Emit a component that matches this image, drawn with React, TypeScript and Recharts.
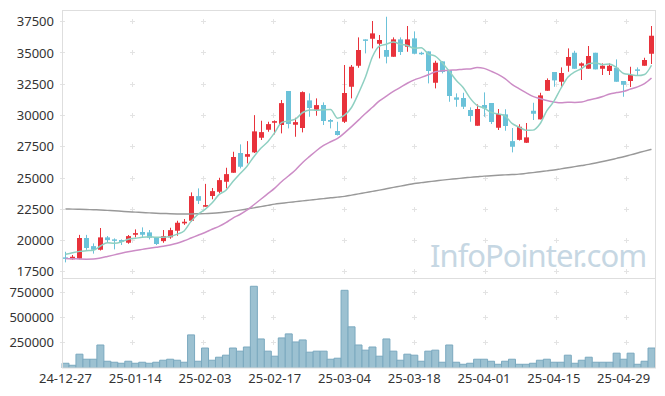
import { Bar, ComposedChart, Line, ReferenceDot, XAxis, YAxis } from "recharts";

// 일봉 데이터 (24-12-27 ~ 25-05-08)
const dates = [
  "24-12-27", "24-12-30", "25-01-02", "25-01-03", "25-01-06", "25-01-07", "25-01-08", "25-01-09", "25-01-10", "25-01-13",
  "25-01-14", "25-01-15", "25-01-16", "25-01-17", "25-01-20", "25-01-21", "25-01-22", "25-01-23", "25-01-24", "25-01-31",
  "25-02-03", "25-02-04", "25-02-05", "25-02-06", "25-02-07", "25-02-10", "25-02-11", "25-02-12", "25-02-13", "25-02-14",
  "25-02-17", "25-02-18", "25-02-19", "25-02-20", "25-02-21", "25-02-24", "25-02-25", "25-02-26", "25-02-27", "25-02-28",
  "25-03-04", "25-03-05", "25-03-06", "25-03-07", "25-03-10", "25-03-11", "25-03-12", "25-03-13", "25-03-14", "25-03-17",
  "25-03-18", "25-03-19", "25-03-20", "25-03-21", "25-03-24", "25-03-25", "25-03-26", "25-03-27", "25-03-28", "25-03-31",
  "25-04-01", "25-04-02", "25-04-03", "25-04-04", "25-04-07", "25-04-08", "25-04-09", "25-04-10", "25-04-11", "25-04-14",
  "25-04-15", "25-04-16", "25-04-17", "25-04-18", "25-04-21", "25-04-22", "25-04-23", "25-04-24", "25-04-25", "25-04-28",
  "25-04-29", "25-04-30", "25-05-02", "25-05-07", "25-05-08",
];

const opens = [
  18650, 18500, 18550, 20200, 19550, 19260, 20250, 20090, 20040, 19820,
  20460, 20680, 20650, 20220, 19950, 20250, 20780, 21370, 21580, 23550,
  22700, 23560, 23900, 24700, 25420, 27000, 26700, 27050, 28220, 28860,
  29420, 29240, 31960, 29260, 29000, 31210, 30460, 30840, 29640, 28760,
  29500, 32300, 33980, 36090, 36140, 35740, 35240, 34700, 36090, 35500,
  36170, 35020, 35130, 32620, 34330, 33640, 31450, 31400, 30440, 29180,
  30840, 31000, 29020, 30090, 27950, 28050, 27820, 30380, 29690, 31980,
  33480, 32700, 33980, 35020, 33980, 33740, 35020, 33740, 33560, 33820,
  32760, 32760, 33690, 33980, 34940,
];

const highs = [
  19100, 18840, 20450, 20450, 19770, 21000, 20360, 20170, 20090, 20440,
  20890, 21050, 20840, 20220, 20840, 21020, 21580, 21720, 23850, 24170,
  24530, 24200, 25020, 25820, 27100, 27690, 27950, 30030, 29580, 29500,
  29610, 31240, 31960, 29820, 31930, 31770, 31370, 31050, 29720, 29500,
  34040, 34040, 36250, 36090, 37560, 36440, 37900, 36250, 36250, 37160,
  36730, 35100, 35130, 34380, 34330, 33640, 31770, 31820, 30650, 30890,
  31850, 31000, 30520, 30500, 29000, 29300, 29400, 31020, 31820, 32970,
  33480, 33850, 35370, 35180, 34250, 35560, 35020, 34170, 34170, 34490,
  32760, 33900, 33850, 34620, 37160,
];

const lows = [
  18250, 18480, 18500, 19250, 18950, 19200, 19870, 19290, 19640, 19740,
  20250, 20280, 20090, 19640, 19820, 20140, 20380, 21250, 21500, 22920,
  22700, 23300, 23770, 24170, 25420, 25770, 26170, 27000, 28040, 28700,
  28490, 28570, 28970, 28300, 28650, 29900, 29980, 29240, 28970, 28400,
  29400, 31370, 33820, 34970, 35370, 34570, 34170, 34700, 34840, 35100,
  34940, 34850, 32570, 32170, 33370, 31100, 30700, 30520, 29500, 29180,
  29900, 29320, 28840, 28780, 27050, 28000, 27800, 29640, 29690, 31980,
  32300, 32300, 33500, 33740, 32840, 33740, 33690, 33240, 33240, 32700,
  31500, 32280, 33240, 33980, 34120,
];

const closes = [
  18550, 18700, 20200, 19400, 19260, 20250, 20030, 20010, 19880, 20350,
  20590, 20460, 20220, 19720, 20350, 20830, 21420, 21500, 23550, 23180,
  22830, 23950, 24830, 25310, 26680, 25900, 26910, 28730, 28670, 29310,
  29550, 30990, 29320, 29470, 31870, 30600, 30830, 29560, 29500, 28440,
  31800, 33900, 35240, 35980, 36570, 36040, 34700, 36090, 35080, 36090,
  34940, 34920, 33560, 34220, 33480, 31560, 31260, 30700, 29960, 30520,
  30570, 29480, 30120, 29160, 27500, 29100, 28250, 30140, 31610, 32840,
  32810, 33400, 34680, 33740, 34170, 34760, 33690, 33980, 33980, 32700,
  32460, 33240, 33580, 34440, 36380,
];

const volumes = [
  47000, 27000, 137000, 87000, 87000, 228000, 67000, 57000, 47000, 67000,
  47000, 57000, 47000, 57000, 77000, 87000, 77000, 57000, 328000, 67000,
  198000, 77000, 107000, 127000, 198000, 167000, 208000, 810000, 288000, 167000,
  117000, 298000, 338000, 258000, 278000, 157000, 167000, 167000, 87000, 97000,
  770000, 408000, 228000, 177000, 208000, 117000, 288000, 167000, 77000, 137000,
  127000, 67000, 167000, 177000, 57000, 228000, 57000, 37000, 47000, 87000,
  87000, 67000, 37000, 67000, 87000, 37000, 37000, 47000, 77000, 87000,
  57000, 57000, 127000, 47000, 77000, 107000, 57000, 57000, 57000, 147000,
  87000, 147000, 37000, 67000, 198000,
];

// 이동평균선 (5일, 20일, 120일)
const ma5 = [
  18890, 19020, 19130, 19180, 19222, 19562, 19828, 19790, 19886, 20104,
  20172, 20258, 20300, 20268, 20268, 20316, 20508, 20764, 21530, 22096,
  22496, 23002, 23668, 24020, 24720, 25334, 25926, 26706, 27378, 27904,
  28634, 29450, 29568, 29728, 30240, 30450, 30418, 30466, 30472, 29786,
  30026, 30640, 31776, 33072, 34698, 35546, 35706, 35876, 35696, 35600,
  35380, 35424, 34918, 34746, 34224, 33548, 32816, 32244, 31392, 30800,
  30602, 30246, 30130, 29970, 29366, 29072, 28826, 28830, 29320, 30388,
  31130, 32160, 33068, 33494, 33760, 34150, 34208, 34068, 34116, 33822,
  33362, 33272, 33192, 33284, 34020,
];

const ma20 = [
  18560, 18540, 18520, 18510, 18520, 18600, 18720, 18850, 18980, 19100,
  19200, 19290, 19380, 19460, 19540, 19640, 19780, 19980, 20200, 20422,
  20637, 20899, 21131, 21426, 21797, 22080, 22424, 22860, 23299, 23747,
  24195, 24722, 25177, 25664, 26240, 26729, 27199, 27602, 27900, 28163,
  28611, 29109, 29629, 30163, 30657, 31164, 31554, 31922, 32242, 32581,
  32851, 33047, 33259, 33497, 33577, 33625, 33647, 33704, 33727, 33831,
  33769, 33548, 33292, 32951, 32498, 32151, 31828, 31531, 31357, 31195,
  31088, 31012, 31068, 31044, 31079, 31239, 31360, 31524, 31725, 31834,
  31929, 32117, 32290, 32554, 32998,
];

const ma120 = [
  22520, 22510, 22500, 22480, 22460, 22440, 22410, 22380, 22340, 22300,
  22270, 22240, 22210, 22180, 22160, 22140, 22130, 22130, 22130, 22140,
  22150, 22180, 22220, 22280, 22350, 22430, 22520, 22610, 22710, 22810,
  22910, 22980, 23050, 23110, 23170, 23230, 23290, 23350, 23420, 23470,
  23530, 23630, 23730, 23830, 23930, 24030, 24140, 24250, 24350, 24460,
  24560, 24630, 24700, 24760, 24830, 24890, 24940, 25000, 25050, 25100,
  25150, 25180, 25220, 25250, 25280, 25310, 25370, 25430, 25500, 25570,
  25640, 25730, 25820, 25910, 26000, 26090, 26200, 26320, 26440, 26570,
  26700, 26850, 27000, 27150, 27290,
];

const priceTicks = [17500, 20000, 22500, 25000, 27500, 30000, 32500, 35000, 37500];
const volumeTicks = [250000, 500000, 750000];
const gridDates = dates.filter((_, i) => i % 10 === 0);

const RED = "#e8323b";
const BLUE = "#6bc2d9";
const FONT = "'Noto Sans', sans-serif";
const PRICE_DOMAIN = [17000, 38440];
const VOLUME_DOMAIN = [0, 892000];

const data = dates.map((date, i) => ({
  date,
  open: opens[i],
  high: highs[i],
  low: lows[i],
  close: closes[i],
  range: [lows[i], highs[i]],
  volume: volumes[i],
  ma5: ma5[i],
  ma20: ma20[i],
  ma120: ma120[i],
}));

// 캔들: range(저가~고가) 막대 위치를 받아 시가/종가 몸통을 그린다
function Candle(props: any) {
  const { x, y, width, height, payload } = props;
  if (x == null || y == null) return null;
  const { open, close, high, low } = payload;
  const color = close >= open ? RED : BLUE;
  const top = Math.min(y, y + height);
  const h = Math.abs(height);
  const ratio = h / (high - low);
  const cx = Math.floor(x + width / 2);
  const yOpen = top + (high - open) * ratio;
  const yClose = top + (high - close) * ratio;
  const bodyTop = Math.min(yOpen, yClose);
  const bodyH = Math.max(Math.abs(yOpen - yClose), 1.5);
  return (
    <g>
      <line x1={cx + 0.5} x2={cx + 0.5} y1={top} y2={top + h} stroke={color} strokeWidth={1} />
      <rect x={cx - 2} y={bodyTop} width={5} height={bodyH} fill={color} />
    </g>
  );
}

function Cross(props: any) {
  const { cx, cy } = props;
  if (cx == null || cy == null) return null;
  const px = Math.floor(cx) + 0.5;
  const py = Math.floor(cy) + 0.5;
  return <path d={`M${px - 2.5},${py}h5M${px},${py - 2.5}v5`} stroke="#e3e3e3" strokeWidth={1} />;
}

const tickStyle = { fill: "#333", fontSize: 13, fontFamily: FONT };

// 배경 격자(+ 표시)만 그리는 차트 - 데이터 차트 아래에 깔린다
function CrossLayer({ height, margin, domain, ticks, xHeight }: any) {
  return (
    <ComposedChart width={665} height={height} data={data} margin={margin}>
      <XAxis dataKey="date" hide={!xHeight} height={xHeight} tick={false} tickLine={false} axisLine={false} />
      <YAxis domain={domain} ticks={ticks} allowDataOverflow width={62} tick={false} tickLine={false} axisLine={false} />
      {gridDates.map((d) =>
        ticks.map((v: number) => <ReferenceDot key={d + v} x={d} y={v} r={0} shape={Cross} />)
      )}
    </ComposedChart>
  );
}

export default function App() {
  // 가격 차트는 290 높이, 아래 12px 여백 → 플롯 영역 10~278
  const priceMargin = { top: 10, right: 10, left: 0, bottom: 12 };
  const volumeMargin = { top: 0, right: 10, left: 0, bottom: 0 };
  return (
    <div style={{ position: "absolute", left: 0, top: 0, width: 665, height: 396, background: "#fff" }}>
      <div style={{ position: "absolute", left: 0, top: 0 }}>
        <CrossLayer height={290} margin={priceMargin} domain={PRICE_DOMAIN} ticks={priceTicks} />
      </div>
      <div style={{ position: "absolute", left: 0, top: 278 }}>
        <CrossLayer height={118} margin={volumeMargin} domain={VOLUME_DOMAIN} ticks={volumeTicks} xHeight={28} />
      </div>
      <div style={{ position: "absolute", left: 0, top: 278 }}>
        <ComposedChart width={665} height={118} data={data} barCategoryGap={0} margin={volumeMargin}>
          <XAxis
            dataKey="date"
            interval={9}
            tickLine={false}
            axisLine={false}
            tickMargin={0}
            height={28}
            tick={tickStyle}
          />
          <YAxis
            domain={VOLUME_DOMAIN}
            ticks={volumeTicks}
            interval={0}
            allowDataOverflow
            width={62}
            tickLine={false}
            axisLine={false}
            tick={tickStyle}
          />
          <Bar dataKey="volume" fill="#9cc1d1" stroke="#7ba9bf" strokeWidth={1} isAnimationActive={false} />
        </ComposedChart>
      </div>
      <div style={{ position: "absolute", left: 0, top: 0 }}>
        <ComposedChart width={665} height={290} data={data} margin={priceMargin}>
          <XAxis dataKey="date" hide />
          <YAxis
            domain={PRICE_DOMAIN}
            ticks={priceTicks}
            interval={0}
            allowDataOverflow
            width={62}
            tickLine={false}
            axisLine={false}
            tick={tickStyle}
          />
          <Bar dataKey="range" shape={Candle} isAnimationActive={false} />
          <Line type="monotone" dataKey="ma120" stroke="#999" strokeWidth={1.5} dot={false} isAnimationActive={false} />
          <Line type="monotone" dataKey="ma20" stroke="#cc8cc6" strokeWidth={1.5} dot={false} isAnimationActive={false} />
          <Line type="monotone" dataKey="ma5" stroke="#8fd0c2" strokeWidth={1.5} dot={false} isAnimationActive={false} />
        </ComposedChart>
      </div>
      <svg width={665} height={396} style={{ position: "absolute", left: 0, top: 0, pointerEvents: "none" }}>
        <rect x={62.5} y={10.5} width={593} height={357.5} fill="none" stroke="#dedede" />
        <line x1={62} x2={655} y1={278.5} y2={278.5} stroke="#dedede" />
        <text x={430} y={267} fontFamily={FONT} fontSize={31} letterSpacing={-1} fill="#c6d7e3">
          InfoPointer.com
        </text>
      </svg>
    </div>
  );
}
